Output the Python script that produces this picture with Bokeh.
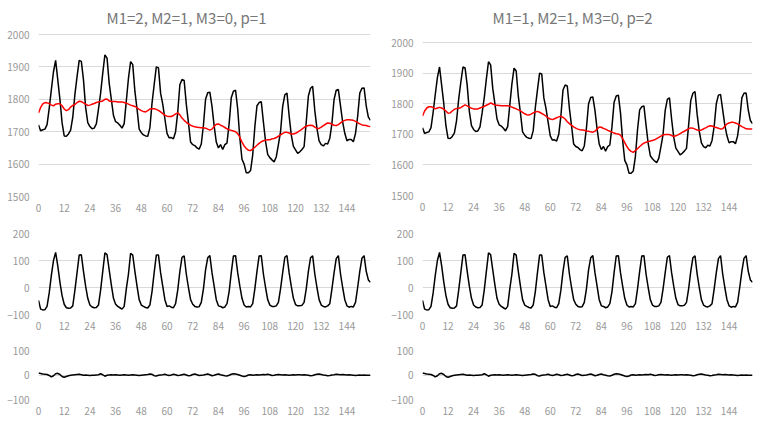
from bokeh.plotting import figure
from bokeh.layouts import row, column
from bokeh.models import Range1d, FixedTicker
from bokeh.core.properties import value
from bokeh.embed import file_html
from bokeh.resources import INLINE

# ---------------- data ----------------
months = list(range(156))
x_ticks = [0, 12, 24, 36, 48, 60, 72, 84, 96, 108, 120, 132, 144]
top_ticks = [1500, 1600, 1700, 1800, 1900, 2000]
mid_ticks = [-100, 0, 100, 200]
bot_ticks = [-100, 0, 100]

titles = ["M1=2, M2=1, M3=0, p=1", "M1=1, M2=1, M3=0, p=2"]

original = [
    1721, 1703, 1706, 1708, 1722, 1772, 1830, 1885, 1920, 1860, 1800, 1728,
    1687, 1686, 1693, 1705, 1745, 1815, 1870, 1920, 1917, 1860, 1775, 1728,
    1716, 1709, 1711, 1724, 1770, 1819, 1881, 1937, 1927, 1850, 1800, 1750,
    1731, 1727, 1720, 1711, 1725, 1795, 1865, 1916, 1907, 1825, 1770, 1708,
    1697, 1690, 1687, 1686, 1712, 1788, 1845, 1900, 1897, 1819, 1785, 1740,
    1695, 1681, 1682, 1678, 1700, 1760, 1845, 1861, 1858, 1785, 1728, 1668,
    1660, 1657, 1650, 1646, 1662, 1720, 1800, 1820, 1822, 1778, 1718, 1668,
    1650, 1660, 1645, 1660, 1665, 1725, 1805, 1825, 1828, 1770, 1680, 1615,
    1600, 1573, 1573, 1580, 1628, 1715, 1780, 1790, 1793, 1730, 1670, 1630,
    1620, 1613, 1607, 1622, 1660, 1700, 1778, 1814, 1819, 1750, 1690, 1655,
    1644, 1633, 1638, 1645, 1654, 1730, 1810, 1834, 1840, 1765, 1710, 1672,
    1660, 1656, 1664, 1662, 1680, 1726, 1800, 1828, 1830, 1780, 1730, 1695,
    1672, 1676, 1676, 1669, 1695, 1747, 1819, 1834, 1835, 1780, 1745, 1735,
]

trend_p1 = [
    1758, 1775, 1786, 1790, 1789, 1787, 1782, 1780, 1785, 1786, 1786, 1780,
    1770, 1765, 1768, 1776, 1781, 1784, 1790, 1794, 1793, 1789, 1785, 1781,
    1782, 1785, 1787, 1790, 1792, 1793, 1795, 1800, 1801, 1795, 1793, 1793,
    1793, 1792, 1792, 1792, 1790, 1788, 1785, 1782, 1780, 1778, 1774, 1769,
    1765, 1762, 1761, 1765, 1770, 1771, 1771, 1769, 1766, 1761, 1756, 1751,
    1748, 1747, 1747, 1750, 1755, 1758, 1752, 1742, 1735, 1729, 1724, 1720,
    1717, 1715, 1714, 1713, 1712, 1712, 1711, 1708, 1705, 1708, 1716, 1723,
    1724, 1720, 1717, 1713, 1709, 1706, 1704, 1702, 1700, 1694, 1683, 1668,
    1656, 1648, 1643, 1642, 1646, 1652, 1658, 1664, 1669, 1672, 1674, 1675,
    1675, 1678, 1679, 1682, 1686, 1690, 1695, 1698, 1698, 1696, 1693, 1693,
    1695, 1699, 1703, 1708, 1713, 1717, 1719, 1720, 1719, 1714, 1710, 1710,
    1714, 1719, 1723, 1727, 1726, 1723, 1720, 1719, 1722, 1727, 1732, 1735,
    1737, 1737, 1736, 1735, 1732, 1728, 1724, 1721, 1720, 1719, 1717, 1716,
]

trend_p2 = [
    1760, 1776, 1786, 1790, 1790, 1788, 1783, 1786, 1788, 1786, 1782, 1776,
    1769, 1770, 1776, 1782, 1784, 1785, 1787, 1792, 1796, 1793, 1789, 1785,
    1783, 1783, 1783, 1786, 1789, 1791, 1795, 1798, 1803, 1799, 1796, 1795,
    1794, 1793, 1793, 1793, 1793, 1792, 1789, 1786, 1783, 1780, 1777, 1772,
    1767, 1764, 1763, 1766, 1770, 1773, 1775, 1772, 1768, 1764, 1759, 1754,
    1750, 1748, 1751, 1754, 1757, 1759, 1755, 1750, 1741, 1735, 1729, 1724,
    1720, 1717, 1715, 1714, 1713, 1711, 1710, 1708, 1707, 1710, 1717, 1724,
    1723, 1719, 1717, 1713, 1710, 1707, 1704, 1702, 1701, 1697, 1686, 1673,
    1660, 1650, 1644, 1641, 1647, 1653, 1660, 1666, 1671, 1674, 1676, 1678,
    1680, 1682, 1686, 1690, 1694, 1698, 1699, 1699, 1699, 1696, 1693, 1695,
    1698, 1702, 1706, 1710, 1714, 1718, 1721, 1720, 1717, 1714, 1712, 1714,
    1718, 1721, 1725, 1728, 1727, 1724, 1722, 1720, 1717, 1718, 1726, 1734,
    1737, 1739, 1739, 1737, 1734, 1730, 1725, 1722, 1718, 1717, 1717, 1717,
]

seasonal = [
    -48, -80, -83, -82, -70, -20, 45, 100, 130, 80, 20, -30,
    -62, -75, -77, -76, -68, -10, 55, 120, 121, 60, 5, -40,
    -65, -72, -75, -74, -65, -10, 60, 128, 122, 65, 10, -40,
    -62, -70, -75, -80, -70, -5, 50, 127, 120, 60, 5, -45,
    -65, -70, -74, -76, -65, -15, 55, 120, 120, 55, 5, -45,
    -70, -68, -73, -75, -60, -10, 60, 112, 117, 50, 0, -45,
    -62, -70, -72, -71, -55, -5, 65, 110, 118, 55, 5, -45,
    -68, -70, -75, -72, -60, -15, 55, 117, 118, 55, 5, -40,
    -65, -72, -70, -72, -60, -5, 60, 117, 118, 50, 0, -45,
    -65, -70, -70, -68, -55, -5, 55, 112, 118, 55, 5, -40,
    -63, -68, -68, -66, -55, -5, 60, 110, 117, 50, 0, -45,
    -65, -70, -72, -68, -60, -5, 55, 107, 118, 50, 0, -45,
    -68, -73, -70, -72, -55, 0, 60, 108, 118, 60, 28, 19,
]

residual = [
    8, 6, 4, 3, 2, -2, -8, -3, 5, 7, 2, -6,
    -9, -6, -3, -1, 0, 1, 2, 3, 1, -1, 0, -1,
    -2, -1, -1, 0, 1, 5, 1, -5, -1, 0, 1, 0,
    1, 0, -1, 0, 1, 0, -1, 0, 1, 0, -1, -2,
    -1, 0, 1, 2, 4, 3, -3, -4, -1, 0, 1, 3,
    0, -2, 0, 3, 1, -2, -1, 1, 3, 0, -3, -2,
    2, 4, 1, -2, -1, 0, 2, 4, 1, -3, -1, 2,
    4, 1, -1, -3, -4, -1, 3, 5, 4, 2, -1, -4,
    -6, -4, 0, 1, -1, 0, 1, 0, 1, 2, 1, 3,
    1, -2, -1, 1, 2, 1, 0, 1, 0, -1, 0, 1,
    0, 1, 1, 0, 1, 0, -1, -3, -2, 1, 3, 4,
    2, 0, -1, -3, -2, 0, 1, 3, 2, 1, 2, 1,
    0, 1, 0, -1, -2, -1, 0, -1, 0, -1, -1, -1,
]

# ---------------- style ----------------
FONT = "Noto Sans CJK JP"
LABEL_COLOR = "#999999"
TITLE_COLOR = "#777777"
GRID_COLOR = "#d9d9d9"
LW = 1.5
X_MAX = 155


def make_fig(w, h, bl, br, bt, bb, yr, yticks, xstand=7):
    p = figure(width=w, height=h, x_range=Range1d(0, X_MAX), y_range=Range1d(*yr),
               output_backend="svg", toolbar_location=None,
               min_border_left=bl, min_border_right=br,
               min_border_top=bt, min_border_bottom=bb)
    p.outline_line_color = None
    p.background_fill_color = "white"
    p.border_fill_color = "white"
    p.xgrid.grid_line_color = None
    p.ygrid.grid_line_color = GRID_COLOR
    p.ygrid.grid_line_width = 1
    p.xaxis.ticker = FixedTicker(ticks=x_ticks)
    p.yaxis.ticker = FixedTicker(ticks=yticks)
    for ax in (p.xaxis[0], p.yaxis[0]):
        ax.axis_line_color = None
        ax.major_tick_line_color = None
        ax.minor_tick_line_color = None
        ax.major_tick_out = 0
        ax.major_tick_in = 0
        ax.major_label_text_font = FONT
        ax.major_label_text_font_size = "10px"
        ax.major_label_text_color = LABEL_COLOR
    p.xaxis.major_label_standoff = xstand
    p.yaxis.major_label_standoff = 9
    return p


# layout (pixels): top panel frame reaches the canvas top so the title sits in it
TOP_H = 216
specs = [
    # w, left/right border, pixel row of the 2000 gridline, bottom border, title left px
    dict(w=383, bl=38, br=13, y2000=34, bb=20, title=titles[0], trend=trend_p1, tleft=106),
    dict(w=377, bl=39, br=8, y2000=42, bb=21, title=titles[1], trend=trend_p2, tleft=109),
]
TITLE_Y = 17

cols = []
for s in specs:
    frame_h = TOP_H - s["bb"]
    frame_w = s["w"] - s["bl"] - s["br"]
    px_per_unit = (frame_h - s["y2000"]) / 500.0
    y_top = 2000 + s["y2000"] / px_per_unit

    p1 = make_fig(s["w"], TOP_H, s["bl"], s["br"], 0, s["bb"], (1500, y_top), top_ticks)
    p1.line(months, original, line_color="black", line_width=LW)
    p1.line(months, s["trend"], line_color="#ff0000", line_width=LW)
    # chart title, placed in the empty band above the 2000 gridline
    tx = (s["tleft"] - s["bl"]) / frame_w * X_MAX
    ty = y_top - TITLE_Y / px_per_unit
    p1.text(x=[tx], y=[ty], text=[s["title"]], text_align="left", text_baseline="middle",
            text_font=value(FONT), text_font_size=value("15px"), text_color=TITLE_COLOR)

    p2 = make_fig(s["w"], 122, s["bl"], s["br"], 17, 24, (-100, 200), mid_ticks)
    p2.line(months, seasonal, line_color="black", line_width=LW)

    p3 = make_fig(s["w"], 82, s["bl"], s["br"], 12, 21, (-100, 100), bot_ticks)
    p3.line(months, residual, line_color="black", line_width=LW)

    cols.append(column(p1, p2, p3, spacing=0))

layout = row(*cols, spacing=0)

open("out.html", "w").write(file_html(layout, INLINE))
